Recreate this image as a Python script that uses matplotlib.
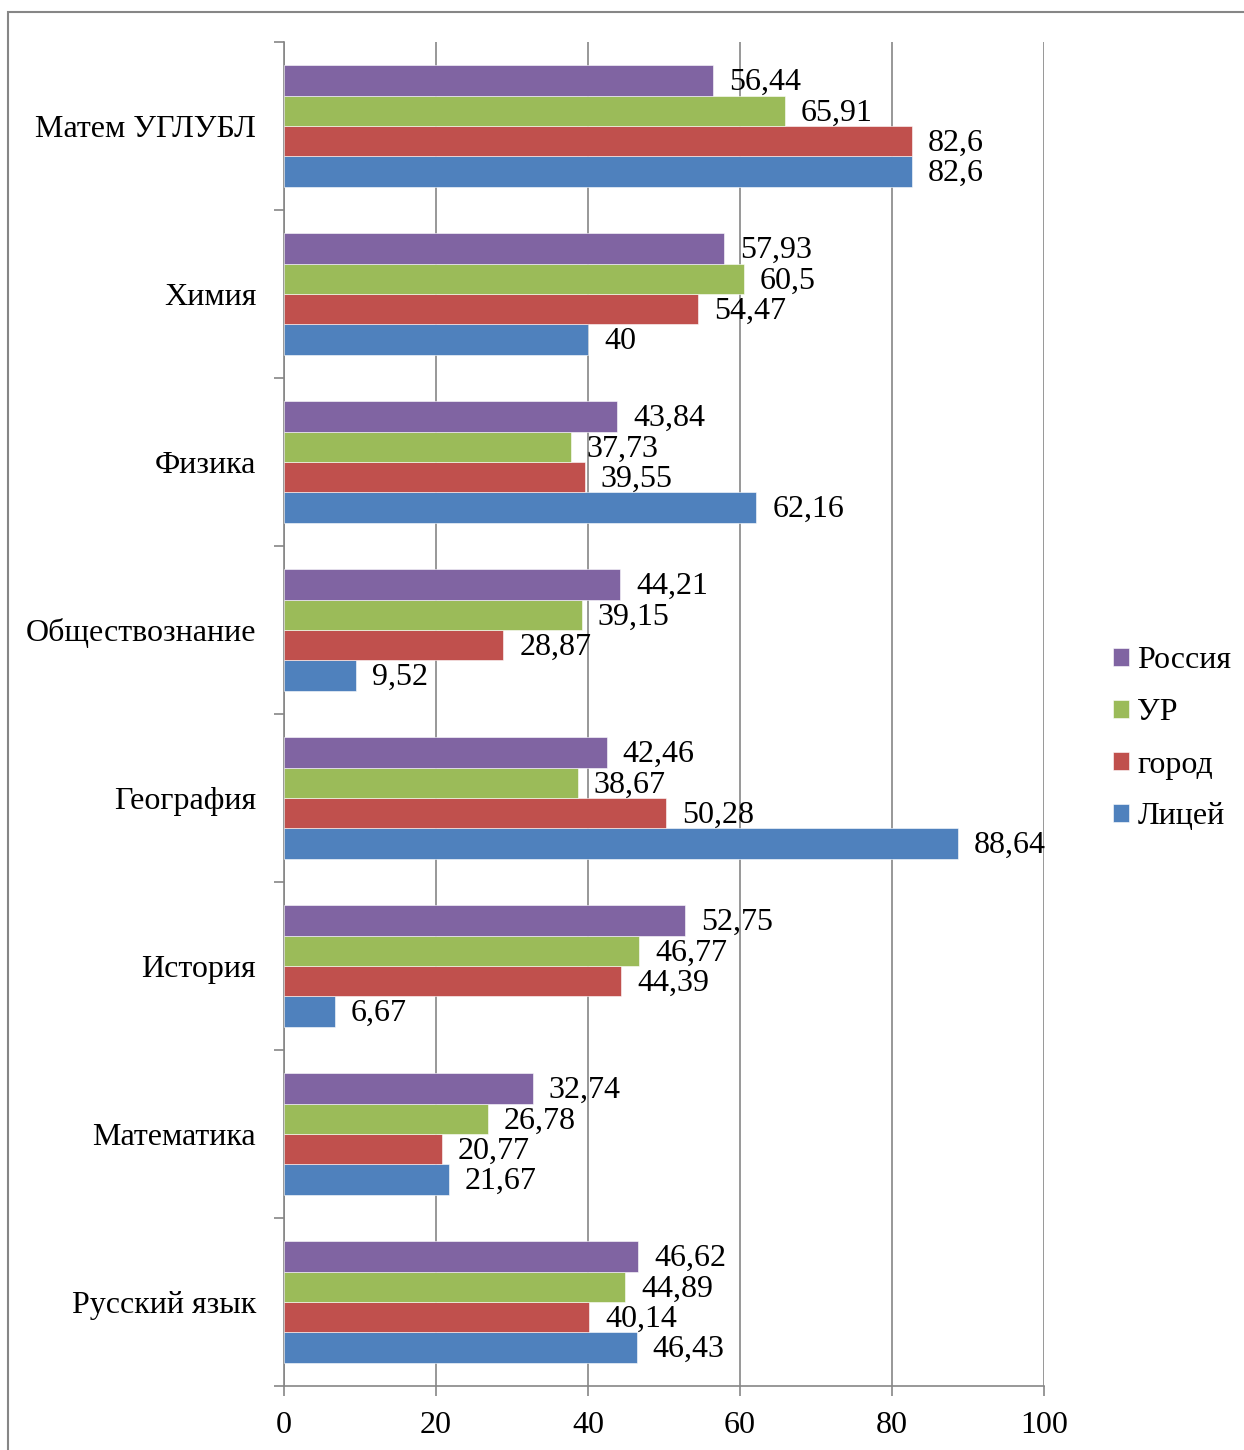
import numpy as np
import matplotlib.pyplot as plt
from matplotlib.patches import Rectangle

# categories bottom -> top
subjects = ["Русский язык", "Математика", "История", "География",
            "Обществознание", "Физика", "Химия", "Матем УГЛУБЛ"]
series_names = ["Лицей", "город", "УР", "Россия"]
litsey = [46.43, 21.67, 6.67, 88.64, 9.52, 62.16, 40, 82.6]
gorod = [40.14, 20.77, 44.39, 50.28, 28.87, 39.55, 54.47, 82.6]
ur = [44.89, 26.78, 46.77, 38.67, 39.15, 37.73, 60.5, 65.91]
rossiya = [46.62, 32.74, 52.75, 42.46, 44.21, 43.84, 57.93, 56.44]
colors = ["#4F81BD", "#C0504D", "#9BBB59", "#8064A2"]

plt.rcParams['font.family'] = ['Liberation Serif', 'DejaVu Serif']
fs = 23

fig = plt.figure(figsize=(12.44, 14.5), dpi=100)
ax = fig.add_axes([284/1244, 1-1386/1450, 760/1244, 1344/1450])

y = np.arange(len(subjects))
h = 0.1815
values = [litsey, gorod, ur, rossiya]
bars = []
for k in range(4):
    b = ax.barh(y + (k - 1.5)*h, values[k], height=h, color=colors[k],
                edgecolor="white", linewidth=0.4, label=series_names[k], zorder=3)
    bars.append(b)
    for yi, v in zip(y, values[k]):
        ax.annotate(f"{v:g}".replace(".", ","), (v, yi + (k - 1.5)*h),
                    xytext=(11.5, -1.5), textcoords="offset points",
                    va="center", ha="left", fontsize=fs, zorder=4)

ax.set_xlim(0, 100)
ax.set_ylim(-0.5, len(subjects) - 0.5)
ax.set_xticks([0, 20, 40, 60, 80, 100])
ax.set_yticks(y)
ax.set_yticklabels(subjects)
ax.set_yticks(np.arange(-0.5, len(subjects), 1), minor=True)
ax.tick_params(axis="y", which="major", length=0, pad=20, labelsize=fs)
ax.tick_params(axis="y", which="minor", length=7, width=1.2, color="#868686")
ax.tick_params(axis="x", length=7, width=1.2, color="#868686", pad=11, labelsize=fs)
ax.xaxis.grid(True, color="#868686", linewidth=1.2, zorder=0)
for s in ["top", "right"]:
    ax.spines[s].set_visible(False)
for s in ["left", "bottom"]:
    ax.spines[s].set_color("#868686")
    ax.spines[s].set_linewidth(1.2)

handles = [bars[3], bars[2], bars[1], bars[0]]
labels = ["Россия", "УР", "город", "Лицей"]
fig.legend(handles, labels, loc="center left", bbox_to_anchor=(1091/1244, 1-739/1450),
           frameon=False, fontsize=fs, handlelength=0.5, handleheight=0.5,
           handletextpad=0.25, labelspacing=0.72, borderpad=0.2)

# outer chart border
fig.patches.append(Rectangle((8/1244, -0.05), 1.1, 1-12/1450 + 0.05,
                             transform=fig.transFigure, fill=False,
                             edgecolor="#868686", linewidth=1.5, clip_on=False))

fig.savefig("out.png", dpi=100)
